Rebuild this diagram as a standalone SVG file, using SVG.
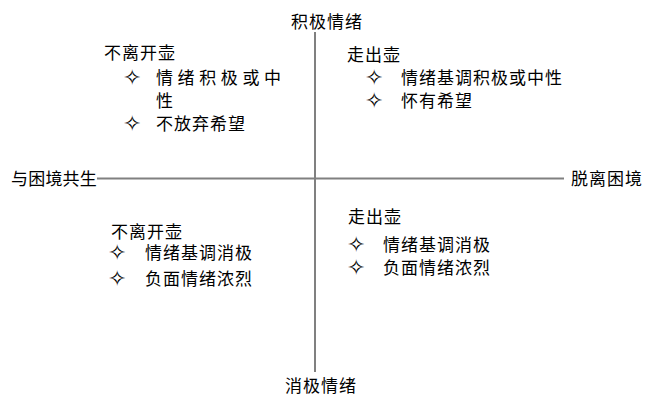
<svg xmlns="http://www.w3.org/2000/svg" width="649" height="408" viewBox="0 0 649 408">
<style>
.t{font-family:"Noto Sans CJK SC","Liberation Sans",sans-serif;font-size:17px;fill:#000;letter-spacing:1px}
.b{font-family:"DejaVu Sans",sans-serif;font-size:22px;letter-spacing:0}
.ax{stroke:#808080;stroke-width:2;fill:none}
</style>
<rect width="649" height="408" fill="#fff"/>
<g id="connectors">
<line class="ax" x1="315" y1="32" x2="315" y2="372"/>
<line class="ax" x1="97" y1="178.5" x2="564" y2="178.5"/>
</g>
<g id="axis-top"><text class="t" x="291" y="27.5">积极情绪</text></g>
<g id="axis-left"><text class="t" x="11" y="184.5" style="letter-spacing:0.2px">与困境共生</text></g>
<g id="axis-right"><text class="t" x="571" y="184.5">脱离困境</text></g>
<g id="axis-bottom"><text class="t" x="285" y="392">消极情绪</text></g>
<g id="q-top-left">
<text class="t"><tspan x="104" y="59">不离开壶</tspan><tspan class="b" x="123" y="85">✧</tspan><tspan x="156" y="84" style="letter-spacing:4.6px">情绪积极或中</tspan><tspan x="156" y="106.5">性</tspan><tspan class="b" x="123" y="131">✧</tspan><tspan x="156" y="130">不放弃希望</tspan></text>
</g>
<g id="q-top-right">
<text class="t"><tspan x="347" y="61">走出壶</tspan><tspan class="b" x="365" y="85">✧</tspan><tspan x="401" y="84">情绪基调积极或中性</tspan><tspan class="b" x="365" y="107.5">✧</tspan><tspan x="401" y="106.5">怀有希望</tspan></text>
</g>
<g id="q-bottom-left">
<text class="t"><tspan x="111" y="238">不离开壶</tspan><tspan class="b" x="108" y="260">✧</tspan><tspan x="145" y="259">情绪基调消极</tspan><tspan class="b" x="108" y="285.5">✧</tspan><tspan x="145" y="284.5">负面情绪浓烈</tspan></text>
</g>
<g id="q-bottom-right">
<text class="t"><tspan x="348" y="223">走出壶</tspan><tspan class="b" x="347" y="252">✧</tspan><tspan x="383" y="251">情绪基调消极</tspan><tspan class="b" x="347" y="275">✧</tspan><tspan x="383" y="274">负面情绪浓烈</tspan></text>
</g>
</svg>
